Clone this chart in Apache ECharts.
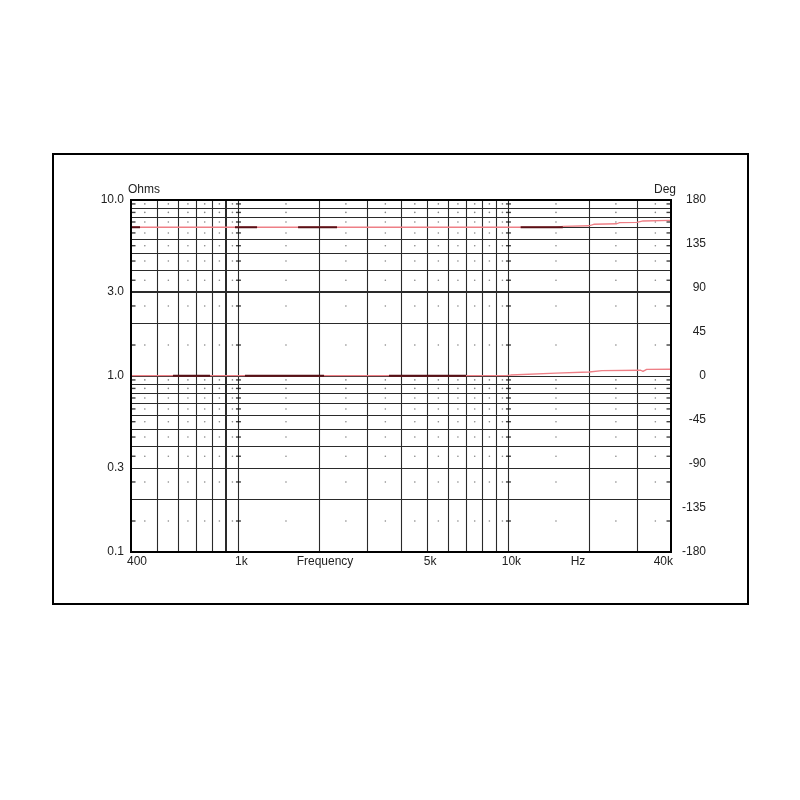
<!DOCTYPE html>
<html><head><meta charset="utf-8">
<script src="https://cdn.jsdelivr.net/npm/echarts@6/dist/echarts.min.js"></script>
<style>html,body{margin:0;padding:0;background:#fff}#c{width:800px;height:800px}</style>
</head><body><div id="c"></div>
<script>
// ---- data ----
const impFreq = [400, 10000, 15000, 16000, 19900, 20700, 25200, 25800, 29900, 31500, 40000];
const impOhms = [7.0, 7.0, 7.0, 7.08, 7.14, 7.28, 7.33, 7.43, 7.47, 7.6, 7.67];
const phFreq = [400, 9800, 10200, 15000, 19900, 22200, 30900, 31500, 32500, 40000];
const phDeg = [0.3, 0.3, 1.0, 3.0, 4.1, 5.4, 5.9, 4.8, 6.8, 6.9];
// second (dark) trace, visible segments only
const impDarkStart = [400, 971, 1663, 11100];
const impDarkEnd = [432, 1172, 2318, 15900];
const impDarkOhms = [7.0, 7.0, 7.0, 7.0];
const phDarkStart = [572, 1057, 3611];
const phDarkEnd = [785, 2075, 6963];
const phDarkDeg = [0.3, 0.3, 0.3];
// grid / ticks
const xGridFreqs = [500,600,700,800,900,1000,2000,3000,4000,5000,6000,7000,8000,9000,10000,20000,30000];
const xBoldFreqs = [900];
const yGridOhms = [9,8,7,6,5,4,3,2,1,0.9,0.8,0.7,0.6,0.5,0.4,0.3,0.2];
const yBoldOhms = [3];
const xDotFreqs = [450,550,650,750,850,950,1500,2500,3500,4500,5500,6500,7500,8500,9500,15000,25000,35000];
const yDotOhms = [9.5,8.5,7.5,6.5,5.5,4.5,3.5,2.5,1.5,0.95,0.85,0.75,0.65,0.55,0.45,0.35,0.25,0.15];
const tickLineFreqs = [400,1000,10000,40000];
const xLabelFreqs = [400,1000,5000,10000,40000];
const xLabelTexts = ['400','1k','5k','10k','40k'];
const yLabelOhms = [10,3,1,0.3,0.1];
const yLabelTexts = ['10.0','3.0','1.0','0.3','0.1'];

const FONT = "'Liberation Sans', Arial, sans-serif";
const TXT = '#222';

function pairs(xs, ys){ return xs.map((x,i)=>[x, ys[i]]); }
function segs(s, e, v){
  const out = [];
  s.forEach((x,i)=>{ out.push([x, v[i]]); out.push([e[i], v[i]]); out.push([e[i], '-']); });
  return out;
}
const markData = [];
xGridFreqs.forEach(f => markData.push({xAxis: f, lineStyle:{color:'#2a2a2a', width: xBoldFreqs.includes(f)?2:1.1, type:'solid'}}));
yGridOhms.forEach(v => markData.push({yAxis: v, lineStyle:{color:'#2a2a2a', width: yBoldOhms.includes(v)?2:1.1, type:'solid'}}));

const tickData = tickLineFreqs.flatMap((f,i)=>yDotOhms.map(v=>({
  value:[f,v],
  symbolOffset: i===0 ? [2,0] : (i===tickLineFreqs.length-1 ? [-2,0] : [0,0])
})));

const chart = echarts.init(document.getElementById('c'));
chart.setOption({
  animation:false,
  backgroundColor:'#fff',
  grid:{left:131, right:129, top:200, bottom:248, show:true, borderColor:'#000', borderWidth:2, backgroundColor:'transparent', z:10},
  xAxis:{type:'log', logBase:10, min:400, max:40000, axisLine:{show:false}, axisTick:{show:false}, axisLabel:{show:false}, splitLine:{show:false}},
  yAxis:[
    {type:'log', logBase:10, min:0.1, max:10, axisLine:{show:false}, axisTick:{show:false}, axisLabel:{show:false}, splitLine:{show:false}},
    {type:'value', min:-180, max:180, interval:45, position:'right', axisLine:{show:false}, axisTick:{show:false}, splitLine:{show:false},
     axisLabel:{color:TXT, fontSize:12, fontFamily:FONT, align:'right', margin:35}}
  ],
  series:[
    {type:'line', data:[], z:1, silent:true,
     markLine:{silent:true, z:1, symbol:['none','none'], label:{show:false}, animation:false, data:markData}},
    {type:'scatter', data: xDotFreqs.flatMap(f=>yDotOhms.map(v=>[f,v])), symbol:'circle', symbolSize:1.6,
     itemStyle:{color:'#666'}, silent:true, z:2},
    {type:'scatter', data: tickData, symbol:'rect', symbolSize:[5,1.4],
     itemStyle:{color:'#111'}, silent:true, z:2},
    {type:'line', name:'Impedance', data:pairs(impFreq, impOhms), yAxisIndex:0, symbol:'none',
     lineStyle:{color:'#ee7f86', width:1.3}, z:6},
    {type:'line', name:'Phase', data:pairs(phFreq, phDeg), yAxisIndex:1, symbol:'none',
     lineStyle:{color:'#ee7f86', width:1.3}, z:6},
    {type:'line', name:'Impedance B', data:segs(impDarkStart, impDarkEnd, impDarkOhms), yAxisIndex:0, symbol:'none',
     connectNulls:false, lineStyle:{color:'#5a1016', width:2}, z:7},
    {type:'line', name:'Phase B', data:segs(phDarkStart, phDarkEnd, phDarkDeg), yAxisIndex:1, symbol:'none',
     connectNulls:false, lineStyle:{color:'#5a1016', width:2}, z:7}
  ]
});

const px = v => chart.convertToPixel({xAxisIndex:0}, v);
const py = v => chart.convertToPixel({yAxisIndex:0}, v);
const g = [];
g.push({type:'rect', shape:{x:53, y:154, width:695, height:450}, style:{fill:'none', stroke:'#000', lineWidth:2}, silent:true});
const x0 = px(400), x1 = px(40000), yb = py(0.1), yt = py(10);
xLabelFreqs.forEach((f,i)=>{
  let align = 'center', dx = 3;
  if (i === 0) { align = 'left'; dx = -4; }
  if (i === xLabelFreqs.length-1) { align = 'right'; dx = 2; }
  g.push({type:'text', x: px(f)+dx, y: yb+10, style:{text:xLabelTexts[i], fill:TXT, font:'12px '+FONT, textAlign:align, textVerticalAlign:'middle'}});
});
yLabelOhms.forEach((v,i)=>{
  g.push({type:'text', x: x0-7, y: py(v), style:{text:yLabelTexts[i], fill:TXT, font:'12px '+FONT, textAlign:'right', textVerticalAlign:'middle'}});
});
g.push({type:'text', x: x0-3, y: yt-10, style:{text:'Ohms', fill:TXT, font:'12px '+FONT, textAlign:'left', textVerticalAlign:'middle'}});
g.push({type:'text', x: x1+5, y: yt-10, style:{text:'Deg', fill:TXT, font:'12px '+FONT, textAlign:'right', textVerticalAlign:'middle'}});
g.push({type:'text', x: 325, y: yb+10, style:{text:'Frequency', fill:TXT, font:'12px '+FONT, textAlign:'center', textVerticalAlign:'middle'}});
g.push({type:'text', x: 578, y: yb+10, style:{text:'Hz', fill:TXT, font:'12px '+FONT, textAlign:'center', textVerticalAlign:'middle'}});
chart.setOption({graphic: g});
</script>
</body></html>
